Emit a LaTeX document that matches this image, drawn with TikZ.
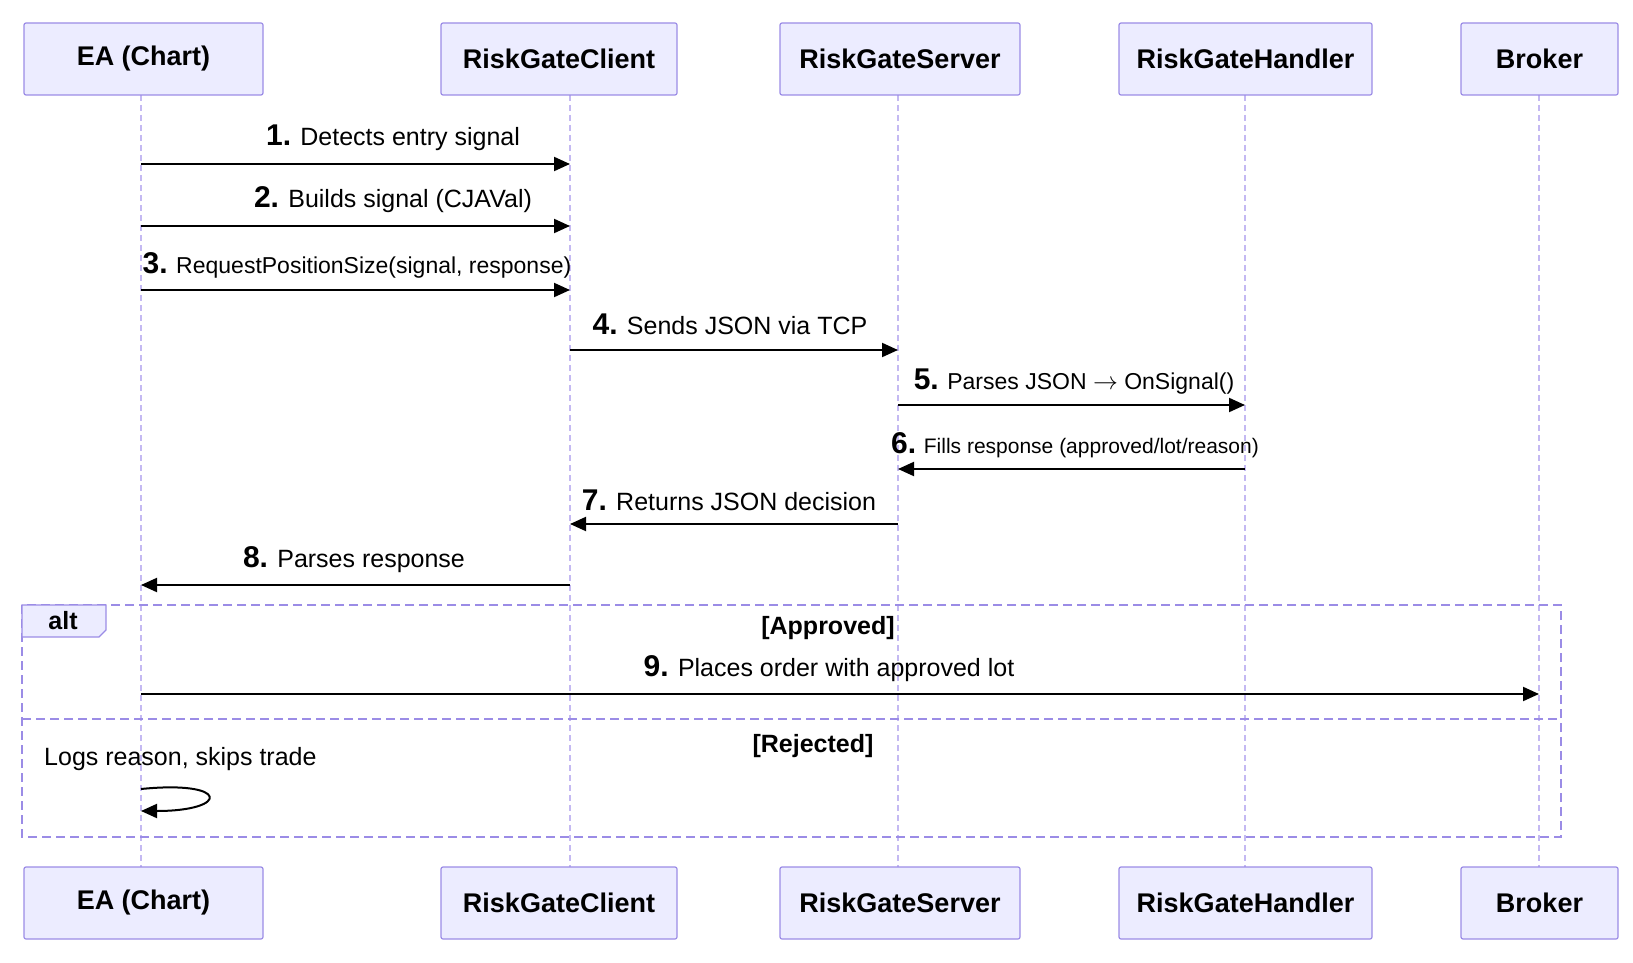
\documentclass[tikz,border=0pt]{standalone}
\usepackage{fontspec}
\setmainfont{Liberation Sans}
\usetikzlibrary{arrows.meta}
\definecolor{actf}{HTML}{ECECFF}
\definecolor{actd}{HTML}{9B8CE6}
\definecolor{lifel}{HTML}{C4B9F2}
\begin{document}
\begin{tikzpicture}[x=1pt,y=-1pt,
 actor/.style={draw=actd,fill=actf,line width=1.2pt,rounded corners=2pt,minimum height=72pt,font=\fontsize{27}{30}\selectfont\bfseries},
 msg/.style={line width=2pt,-{Triangle[length=16pt,width=14pt]}},
 lab/.style={font=\fontsize{25}{28}\selectfont,inner sep=0pt},
 life/.style={draw=lifel,dash pattern=on 6pt off 4pt,line width=1.2pt},
 frame/.style={draw=actd,dash pattern=on 9pt off 5pt,line width=1.6pt}]
\useasboundingbox (0,0) rectangle (1633,963);
\def\actors{EA/EA (Chart)/24/263/141,CL/RiskGateClient/441/677/570,SV/RiskGateServer/780/1020/898,HD/RiskGateHandler/1119/1372/1245,BR/Broker/1461/1618/1539}
\foreach \n/\t/\a/\b/\c in \actors {
  \draw[life] (\c,95) -- (\c,867);
  \node[actor,minimum width=\b-\a] (\n t) at ({(\a+\b)/2},59) {\t};
  \node[actor,minimum width=\b-\a] (\n b) at ({(\a+\b)/2},903) {\t};
}
\foreach \n/\x in {EA/141,CL/570,SV/898,HD/1245,BR/1539}{
  \foreach \i/\y in {1/164,2/226,3/290,4/350,5/405,6/469,7/524,8/585,9/694,10/789,11/811}
    \coordinate (\n\i) at (\x,\y);
}
\draw[msg] (EA1) -- (CL1);
\draw[msg] (EA2) -- (CL2);
\draw[msg] (EA3) -- (CL3);
\draw[msg] (CL4) -- (SV4);
\draw[msg] (SV5) -- (HD5);
\draw[msg] (HD6) -- (SV6);
\draw[msg] (SV7) -- (CL7);
\draw[msg] (CL8) -- (EA8);
\draw[msg] (EA9) -- (BR9);
\node[lab] (l1) at (393,138) {\textbf{\fontsize{30}{30}\selectfont 1.} Detects entry signal};
\node[lab] (l2) at (393,200) {\textbf{\fontsize{30}{30}\selectfont 2.} Builds signal (CJAVal)};
\node[lab,font=\fontsize{23}{26}\selectfont] (l3) at (357,265) {\textbf{\fontsize{30}{30}\selectfont 3.} RequestPositionSize(signal, response)};
\node[lab] (l4) at (730,324) {\textbf{\fontsize{30}{30}\selectfont 4.} Sends JSON via TCP};
\node[lab,font=\fontsize{23}{26}\selectfont] (l5) at (1074,382) {\textbf{\fontsize{30}{30}\selectfont 5.} Parses JSON $\rightarrow$ OnSignal()};
\node[lab,font=\fontsize{21}{24}\selectfont] (l6) at (1075,445) {\textbf{\fontsize{30}{30}\selectfont 6.} Fills response (approved/lot/reason)};
\node[lab] (l7) at (729,500) {\textbf{\fontsize{30}{30}\selectfont 7.} Returns JSON decision};
\node[lab] (l8) at (354,560) {\textbf{\fontsize{30}{30}\selectfont 8.} Parses response};
\node[lab] (l9) at (829,669) {\textbf{\fontsize{30}{30}\selectfont 9.} Places order with approved lot};
% alt frame
\draw[frame] (22,605) rectangle (1561,837);
\draw[frame] (22,719) -- (1561,719);
\draw[draw=actd,fill=actf,line width=1.4pt] (22,605) -- (106,605) -- (106,630) -- (99,637) -- (22,637) -- cycle;
\node[lab,font=\fontsize{25}{28}\selectfont\bfseries] (alt) at (63,621) {alt};
\node[lab,font=\fontsize{25}{28}\selectfont\bfseries] (ap) at (828,628) {[Approved]};
\node[lab,font=\fontsize{25}{28}\selectfont\bfseries] (rj) at (813,746) {[Rejected]};
\node[lab,anchor=west] (lg) at (44,759) {Logs reason, skips trade};
\draw[msg] (EA10) .. controls (230,780) and (230,811) .. (EA11);
\end{tikzpicture}
\end{document}
